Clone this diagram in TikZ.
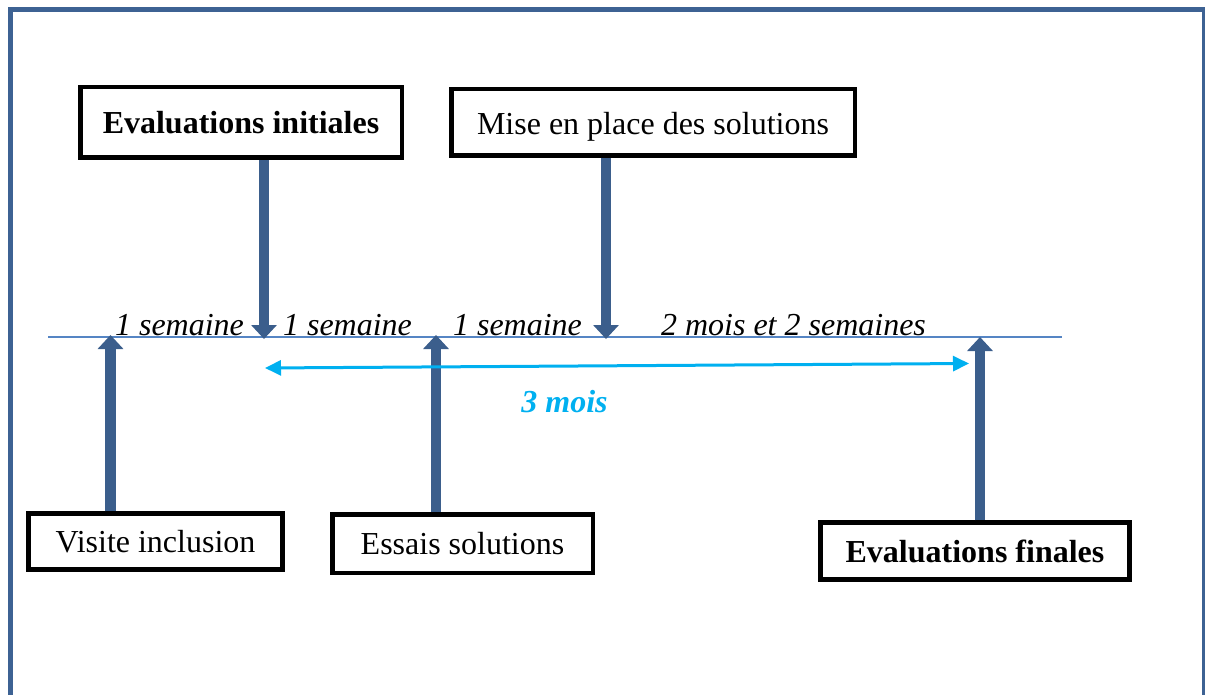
\documentclass[tikz,border=0pt]{standalone}
\usepackage{fontspec}
\setmainfont{Liberation Serif}
\usepackage{xcolor}
\usetikzlibrary{arrows.meta}
\definecolor{frameblue}{HTML}{3D6293}
\definecolor{arrowblue}{HTML}{3B5E8C}
\definecolor{lineblue}{HTML}{5585C4}
\definecolor{skyblue}{HTML}{00B0F0}
\tikzset{
  box/.style={draw=black, line width=4.5pt, fill=white, inner sep=0pt, font=\fontsize{32}{37}\selectfont},
  bigarrow/.style={arrowblue, line width=10.5pt, -{Triangle[width=25pt,length=14pt]}},
  dur/.style={anchor=base, inner sep=0pt, font=\fontsize{32}{37}\selectfont\itshape},
}
\begin{document}
\begin{tikzpicture}[x=1pt,y=-1pt]
\useasboundingbox (0,0) rectangle (1205,695);
% frame
\draw[frameblue, line width=5pt] (10.5,695) -- (10.5,9.5) -- (1205,9.5);
\draw[frameblue, line width=2.5pt] (1203.5,9.5) -- (1203.5,695);
% boxes
\node[box, minimum width=321.5pt, minimum height=70.5pt] (init) at (241,122.5) {\bfseries Evaluations initiales};
\node[box, minimum width=403.5pt, minimum height=66.5pt, text height=31pt, text depth=7pt] (mise) at (653,122.5) {Mise en place des solutions};
\node[box, minimum width=254pt, minimum height=56pt] (visite) at (155.5,541.5) {Visite inclusion};
\node[box, minimum width=260.5pt, minimum height=58.5pt] (essais) at (462.5,543.5) {Essais solutions};
\node[box, minimum width=309pt, minimum height=57pt] (finales) at (975,551) {\bfseries Evaluations finales};
% time line
\coordinate (t0) at (48,337);
\coordinate (t9) at (1062,337);
\draw[lineblue, line width=1.8pt] (t0) -- (t9);
\node[dur] (s1) at (179.5,335) {1 semaine};
\node[dur] (s2) at (347.5,335) {1 semaine};
\node[dur] (s3) at (517.5,335) {1 semaine};
\node[dur] (s4) at (793.5,335) {2 mois et 2 semaines};
% arrows to the line
\coordinate (a1) at (264,339);
\coordinate (a2) at (606,339);
\coordinate (a3) at (110.5,335);
\coordinate (a4) at (436,335);
\coordinate (a5) at (980,337);
\draw[bigarrow] (a1 |- init.south) -- (a1);
\draw[bigarrow] (a2 |- mise.south) -- (a2);
\draw[bigarrow] (a3 |- visite.north) -- (a3);
\draw[bigarrow] (a4 |- essais.north) -- (a4);
\draw[bigarrow] (a5 |- finales.north) -- (a5);
% 3 mois
\coordinate (m1) at (265,368);
\coordinate (m2) at (969,363.5);
\draw[skyblue, line width=3pt, {Triangle[width=15pt,length=16pt]}-{Triangle[width=15pt,length=16pt]}] (m1) -- (m2);
\node[dur, skyblue, font=\fontsize{32}{37}\selectfont\bfseries\itshape] (trois) at (564.5,412) {3 mois};
\end{tikzpicture}
\end{document}
